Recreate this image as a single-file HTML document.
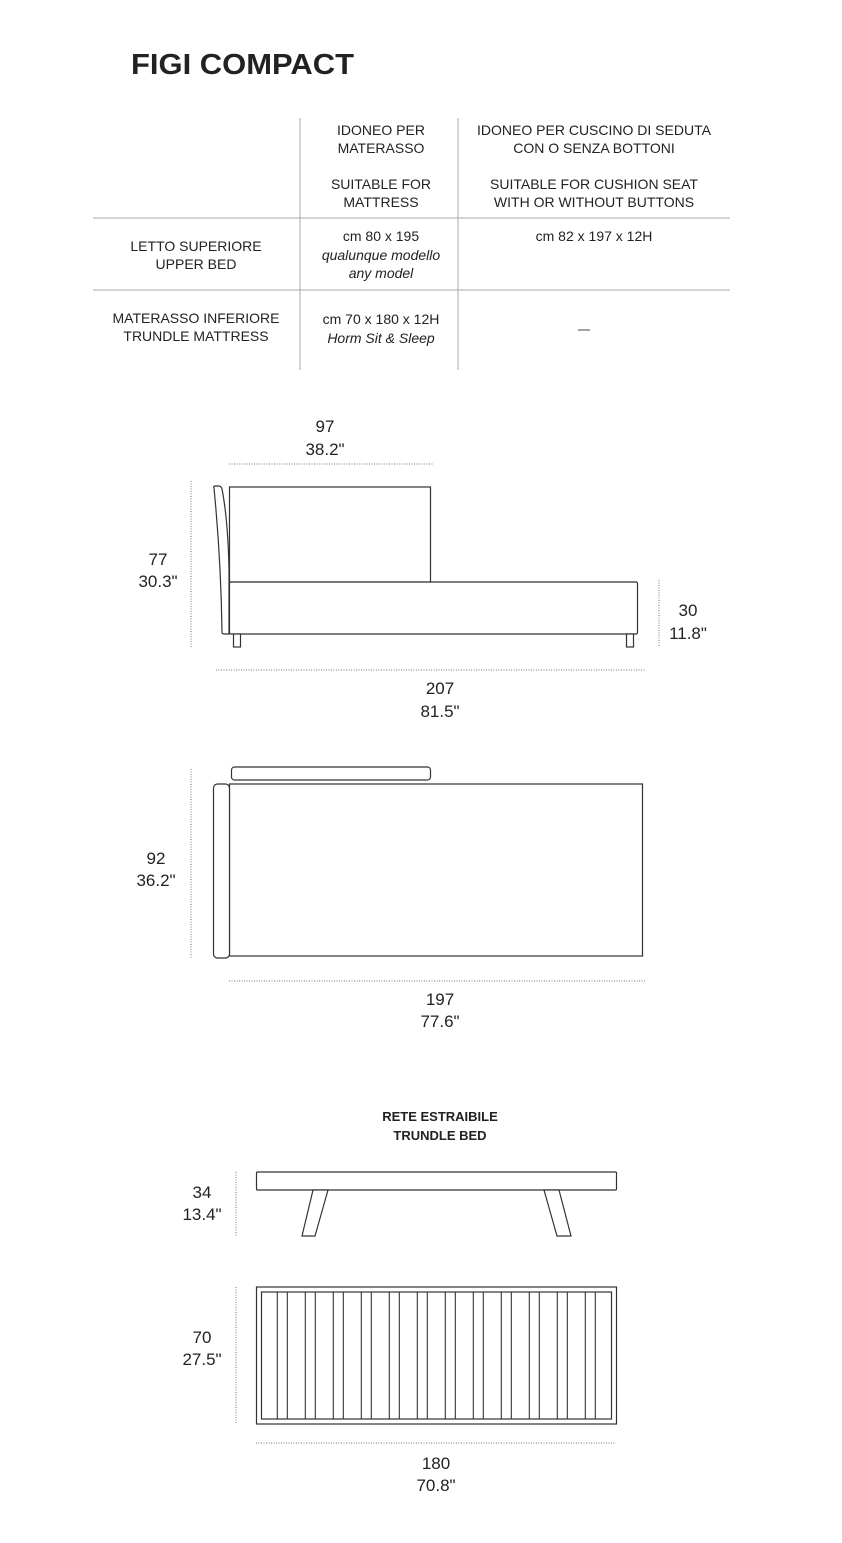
<!DOCTYPE html>
<html><head><meta charset="utf-8"><style>
html,body{margin:0;padding:0;background:#fff;}
svg{display:block;}
text{font-family:"Liberation Sans",sans-serif;fill:#222;}
.t{font-size:14px;text-anchor:middle;}
.i{font-style:italic;}
.d{font-size:17px;text-anchor:middle;}
.dot{stroke:#777;stroke-width:1;stroke-dasharray:1 1.5;fill:none;}
.s{stroke:#333;stroke-width:1.2;fill:#fff;}
.g{stroke:#aaa;stroke-width:1;}
</style></head><body>
<svg width="842" height="1543" viewBox="0 0 842 1543" xmlns="http://www.w3.org/2000/svg">
<text x="131" y="74" font-size="29" font-weight="bold" textLength="223" lengthAdjust="spacingAndGlyphs">FIGI COMPACT</text>
<!-- table -->
<line class="g" x1="93" y1="218" x2="730" y2="218"/>
<line class="g" x1="93" y1="290" x2="730" y2="290"/>
<line class="g" x1="300" y1="118" x2="300" y2="370"/>
<line class="g" x1="458" y1="118" x2="458" y2="370"/>
<text class="t" x="381" y="135">IDONEO PER</text>
<text class="t" x="381" y="153">MATERASSO</text>
<text class="t" x="381" y="189">SUITABLE FOR</text>
<text class="t" x="381" y="207">MATTRESS</text>
<text class="t" x="594" y="135">IDONEO PER CUSCINO DI SEDUTA</text>
<text class="t" x="594" y="153">CON O SENZA BOTTONI</text>
<text class="t" x="594" y="189">SUITABLE FOR CUSHION SEAT</text>
<text class="t" x="594" y="207">WITH OR WITHOUT BUTTONS</text>
<text class="t" x="196" y="251">LETTO SUPERIORE</text>
<text class="t" x="196" y="269">UPPER BED</text>
<text class="t" x="381" y="241">cm 80 x 195</text>
<text class="t i" x="381" y="260">qualunque modello</text>
<text class="t i" x="381" y="278">any model</text>
<text class="t" x="594" y="241">cm 82 x 197 x 12H</text>
<text class="t" x="196" y="323">MATERASSO INFERIORE</text>
<text class="t" x="196" y="341">TRUNDLE MATTRESS</text>
<text class="t" x="381" y="324">cm 70 x 180 x 12H</text>
<text class="t i" x="381" y="343">Horm Sit &amp; Sleep</text>
<line x1="578" y1="330" x2="590" y2="330" stroke="#444" stroke-width="1"/>
<!-- side view -->
<line class="dot" x1="229" y1="464" x2="433" y2="464"/>
<text class="d" x="325" y="432">97</text>
<text class="d" x="325" y="455">38.2"</text>
<line class="dot" x1="191" y1="481" x2="191" y2="648"/>
<text class="d" x="158" y="565">77</text>
<text class="d" x="158" y="587">30.3"</text>
<line class="dot" x1="659" y1="580" x2="659" y2="647"/>
<text class="d" x="688" y="616">30</text>
<text class="d" x="688" y="639">11.8"</text>
<line class="dot" x1="216" y1="670" x2="645" y2="670"/>
<text class="d" x="440" y="694">207</text>
<text class="d" x="440" y="717">81.5"</text>
<path class="s" d="M214 488 Q213 486 215 486 L219 486 Q221 486 222 489 Q228 520 229 570 L229 634 L224 634 Q222 634 222 632 Q221 560 214 488 Z"/>
<rect class="s" x="229.5" y="487" width="201" height="95"/>
<rect class="s" x="229.5" y="582" width="408" height="52" rx="1.5"/>
<rect class="s" x="233.5" y="634" width="7" height="13"/>
<rect class="s" x="626.5" y="634" width="7" height="13"/>
<!-- top view -->
<line class="dot" x1="191" y1="769" x2="191" y2="958"/>
<text class="d" x="156" y="864">92</text>
<text class="d" x="156" y="886">36.2"</text>
<rect class="s" x="231.5" y="767" width="199" height="13" rx="3"/>
<rect class="s" x="229.5" y="784" width="413" height="172"/>
<rect class="s" x="213.5" y="784" width="16" height="174" rx="4"/>
<line class="dot" x1="229" y1="981" x2="645" y2="981"/>
<text class="d" x="440" y="1005">197</text>
<text class="d" x="440" y="1027">77.6"</text>
<!-- trundle -->
<text x="440" y="1121" font-size="13" font-weight="bold" text-anchor="middle">RETE ESTRAIBILE</text>
<text x="440" y="1140" font-size="13" font-weight="bold" text-anchor="middle">TRUNDLE BED</text>
<line class="dot" x1="236" y1="1172" x2="236" y2="1236"/>
<text class="d" x="202" y="1198">34</text>
<text class="d" x="202" y="1220">13.4"</text>
<rect class="s" x="256.5" y="1172" width="360" height="18" rx="1"/>
<path class="s" d="M313 1190 L328 1190 L315 1236 L302 1236 Z"/>
<path class="s" d="M544 1190 L559 1190 L571 1236 L557 1236 Z"/>
<line class="dot" x1="236" y1="1287" x2="236" y2="1424"/>
<text class="d" x="202" y="1343">70</text>
<text class="d" x="202" y="1365">27.5"</text>
<rect class="s" x="256.5" y="1287" width="360" height="137"/>
<rect class="s" x="261.5" y="1292" width="350" height="127"/>
<g stroke="#333" stroke-width="1.1">
<line x1="277.3" y1="1292" x2="277.3" y2="1419"/><line x1="287.3" y1="1292" x2="287.3" y2="1419"/>
<line x1="305.3" y1="1292" x2="305.3" y2="1419"/><line x1="315.3" y1="1292" x2="315.3" y2="1419"/>
<line x1="333.3" y1="1292" x2="333.3" y2="1419"/><line x1="343.3" y1="1292" x2="343.3" y2="1419"/>
<line x1="361.3" y1="1292" x2="361.3" y2="1419"/><line x1="371.3" y1="1292" x2="371.3" y2="1419"/>
<line x1="389.3" y1="1292" x2="389.3" y2="1419"/><line x1="399.3" y1="1292" x2="399.3" y2="1419"/>
<line x1="417.3" y1="1292" x2="417.3" y2="1419"/><line x1="427.3" y1="1292" x2="427.3" y2="1419"/>
<line x1="445.3" y1="1292" x2="445.3" y2="1419"/><line x1="455.3" y1="1292" x2="455.3" y2="1419"/>
<line x1="473.3" y1="1292" x2="473.3" y2="1419"/><line x1="483.3" y1="1292" x2="483.3" y2="1419"/>
<line x1="501.3" y1="1292" x2="501.3" y2="1419"/><line x1="511.3" y1="1292" x2="511.3" y2="1419"/>
<line x1="529.3" y1="1292" x2="529.3" y2="1419"/><line x1="539.3" y1="1292" x2="539.3" y2="1419"/>
<line x1="557.3" y1="1292" x2="557.3" y2="1419"/><line x1="567.3" y1="1292" x2="567.3" y2="1419"/>
<line x1="585.3" y1="1292" x2="585.3" y2="1419"/><line x1="595.3" y1="1292" x2="595.3" y2="1419"/>
</g>
<line class="dot" x1="256" y1="1443" x2="616" y2="1443"/>
<text class="d" x="436" y="1469">180</text>
<text class="d" x="436" y="1491">70.8"</text>
</svg>
</body></html>
